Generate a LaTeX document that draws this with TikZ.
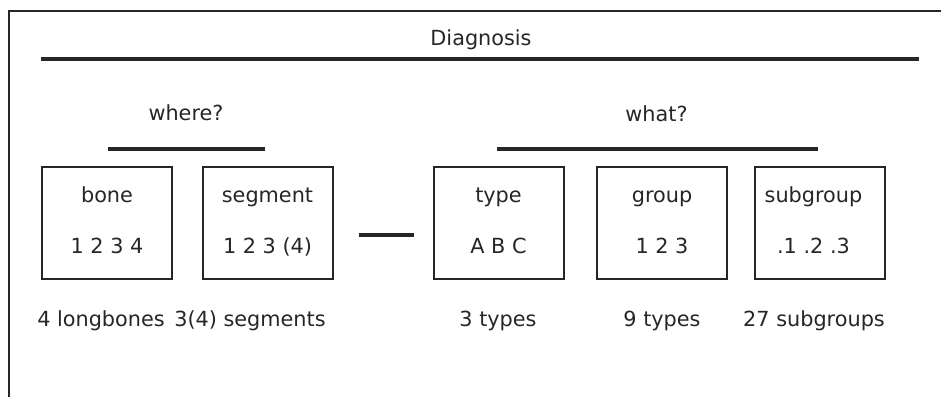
\documentclass[tikz,border=0pt]{standalone}
\usepackage{fontspec}
\setmainfont{DejaVu Sans}
\begin{document}
\begin{tikzpicture}[x=1pt,y=-1pt,
  txt/.style={anchor=base,inner sep=0pt,font=\fontsize{20.8}{24}\selectfont,text=black!85},
  box/.style={draw=black!85,line width=2pt,minimum width=130pt,minimum height=112pt,inner sep=0pt},
  thick rule/.style={line width=3.5pt,draw=black!85},
  frame/.style={line width=1.2pt,draw=black!85}]
\useasboundingbox (0,0) rectangle (941,397);
% frame (top and left only)
\coordinate (ftl) at (9,11);
\coordinate (ftr) at (941,11);
\coordinate (fbl) at (9,397);
\draw[frame] (fbl) -- (ftl) -- (ftr);
% heading
\node[txt] (diag) at (481,45) {Diagnosis};
\coordinate (dl) at (41,59);
\coordinate (dr) at (919,59);
\draw[thick rule] (dl) -- (dr);
\node[txt] (where) at (186,120) {where?};
\coordinate (wl) at (108,149);
\coordinate (wr) at (265,149);
\draw[thick rule] (wl) -- (wr);
\node[txt] (what) at (656.5,121) {what?};
\coordinate (hl) at (497,149);
\coordinate (hr) at (818,149);
\draw[thick rule] (hl) -- (hr);
% boxes
\node[box] (bone) at (107,223) {};
\node[box] (seg) at (267.5,223) {};
\node[box] (type) at (498.5,223) {};
\node[box] (group) at (662,223) {};
\node[box] (sub) at (819.5,223) {};
\foreach \b/\t/\n/\dx in {bone/bone/1 2 3 4/0, seg/segment/1 2 3 (4)/0, type/type/A B C/0, group/group/1 2 3/0, sub/subgroup/.1 .2 .3/-6}{
  \node[txt] (\b-t) at ([xshift=\dx pt,yshift=21pt]\b.center) {\t};
  \node[txt] (\b-n) at ([xshift=\dx pt,yshift=-30pt]\b.center) {\n};
}
% dash between
\coordinate (ml) at (359,235);
\coordinate (mr) at (414,235);
\draw[line width=4pt,draw=black!85] (ml) -- (mr);
% bottom labels
\node[txt] (l1) at (101,326) {4 longbones};
\node[txt] (l2) at (250,326) {3(4) segments};
\node[txt] (l3) at (498,326) {3 types};
\node[txt] (l4) at (662,326) {9 types};
\node[txt] (l5) at (814,326) {27 subgroups};
\end{tikzpicture}
\end{document}
